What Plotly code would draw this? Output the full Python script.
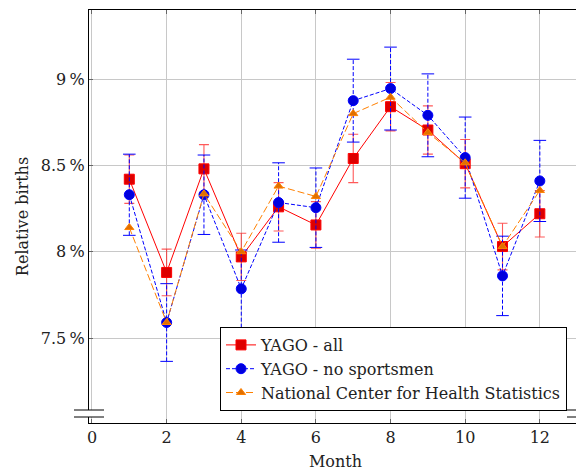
import plotly.graph_objects as go

months = [1, 2, 3, 4, 5, 6, 7, 8, 9, 10, 11, 12]
yago_all = [8.42, 7.88, 8.48, 7.97, 8.26, 8.155, 8.54, 8.84, 8.705, 8.51, 8.03, 8.22]
yago_all_err = [0.14, 0.135, 0.14, 0.137, 0.14, 0.135, 0.14, 0.14, 0.14, 0.14, 0.135, 0.135]
yago_nosport = [8.33, 7.59, 8.33, 7.785, 8.285, 8.255, 8.875, 8.945, 8.79, 8.545, 7.86, 8.41]
yago_nosport_err = [0.235, 0.225, 0.23, 0.225, 0.23, 0.23, 0.24, 0.24, 0.24, 0.235, 0.23, 0.235]
nchs = [8.14, 7.59, 8.335, 8.0, 8.38, 8.32, 8.8, 8.895, 8.69, 8.515, 8.03, 8.355]

yticks = [7.5, 8.0, 8.5, 9.0]
ytick_text = ["7.5\u2009%", "8\u2009%", "8.5\u2009%", "9\u2009%"]
xticks = [0, 2, 4, 6, 8, 10, 12]

FONT = "DejaVu Serif"
FS = 16
LFS = 16
TXT = "#222222"
RED = "#ff0000"
BLUE = "#0000ff"
ORANGE = "#ff8000"

fig = go.Figure()

# blue dashed error bars
ebx, eby = [], []
capx, capy = [], []
for m, v, e in zip(months, yago_nosport, yago_nosport_err):
    ebx += [m, m, None]
    eby += [v - e, v + e, None]
    capx += [m, m]
    capy += [v - e, v + e]

fig.add_trace(go.Scatter(
    x=months, y=yago_all, name="YAGO - all", mode="lines+markers",
    line=dict(color=RED, width=1),
    marker=dict(symbol="square", size=10, color="#dd0000", line=dict(color=RED, width=1)),
    error_y=dict(type="data", array=yago_all_err, color="rgba(255,0,0,0.65)", thickness=1.1, width=5),
))
fig.add_trace(go.Scatter(
    x=ebx, y=eby, mode="lines", showlegend=False, hoverinfo="skip",
    line=dict(color=BLUE, width=1, dash="4px,2px"),
))
fig.add_trace(go.Scatter(
    x=capx, y=capy, mode="markers", showlegend=False, hoverinfo="skip",
    marker=dict(symbol="line-ew-open", size=9, color=BLUE, line=dict(color=BLUE, width=1)),
))
fig.add_trace(go.Scatter(
    x=months, y=yago_nosport, name="YAGO - no sportsmen", mode="lines+markers",
    line=dict(color=BLUE, width=1, dash="4px,2px"),
    marker=dict(symbol="circle", size=10, color="#0000dd", line=dict(color=BLUE, width=1)),
))
fig.add_trace(go.Scatter(
    x=months, y=nchs, name="National Center for Health Statistics", mode="lines+markers",
    line=dict(color=ORANGE, width=1, dash="7px,3px"),
    marker=dict(symbol="triangle-up", size=8, color="#e07000", line=dict(color=ORANGE, width=1)),
))

axis_common = dict(
    showline=True, linecolor="black", linewidth=1.2, mirror="ticks",
    ticks="inside", ticklen=4, tickcolor="#666666",
    showgrid=True, gridcolor="#c8c8c8", gridwidth=1, zeroline=False,
    tickfont=dict(family=FONT, size=FS, color=TXT), automargin=False,
)

fig.update_xaxes(range=[-0.08, 13.13], tickvals=xticks,
                 title=dict(text="Month", font=dict(family=FONT, size=FS, color=TXT), standoff=9),
                 **axis_common)
fig.update_yaxes(range=[7.008, 9.40], tickvals=yticks, ticktext=ytick_text,
                 title=dict(text="Relative births", font=dict(family=FONT, size=FS, color=TXT), standoff=8),
                 **axis_common)

# axis break marks
PH = 413.0
PW = 493.0
shapes = []
for xp in [0.0, 1.0]:
    shapes.append(dict(type="rect", xref="paper", yref="paper", x0=xp - 0.006, x1=xp + 0.006,
                       y0=(423 - 417) / PH, y1=(423 - 410) / PH, fillcolor="white",
                       line=dict(width=0), layer="above"))
    for yy in [410, 417]:
        shapes.append(dict(type="line", xref="paper", yref="paper",
                           x0=xp - 15 / PW, x1=xp + 15 / PW,
                           y0=(423 - yy) / PH, y1=(423 - yy) / PH,
                           line=dict(color="black", width=1), layer="above"))

# page body has an 8px margin: figure spans 8..584 x 8..471
fig.update_layout(
    width=576, height=463,
    margin=dict(l=81, r=2, t=2, b=48),
    plot_bgcolor="white", paper_bgcolor="white",
    font=dict(family=FONT, size=FS, color=TXT),
    shapes=shapes,
    legend=dict(
        x=(567 - 89) / PW, y=(423 - 411) / PH, xanchor="right", yanchor="bottom",
        bgcolor="white", bordercolor="black", borderwidth=1,
        font=dict(family=FONT, size=LFS, color=TXT),
        tracegroupgap=0, itemwidth=30,
    ),
)

fig.write_html("out.html")
